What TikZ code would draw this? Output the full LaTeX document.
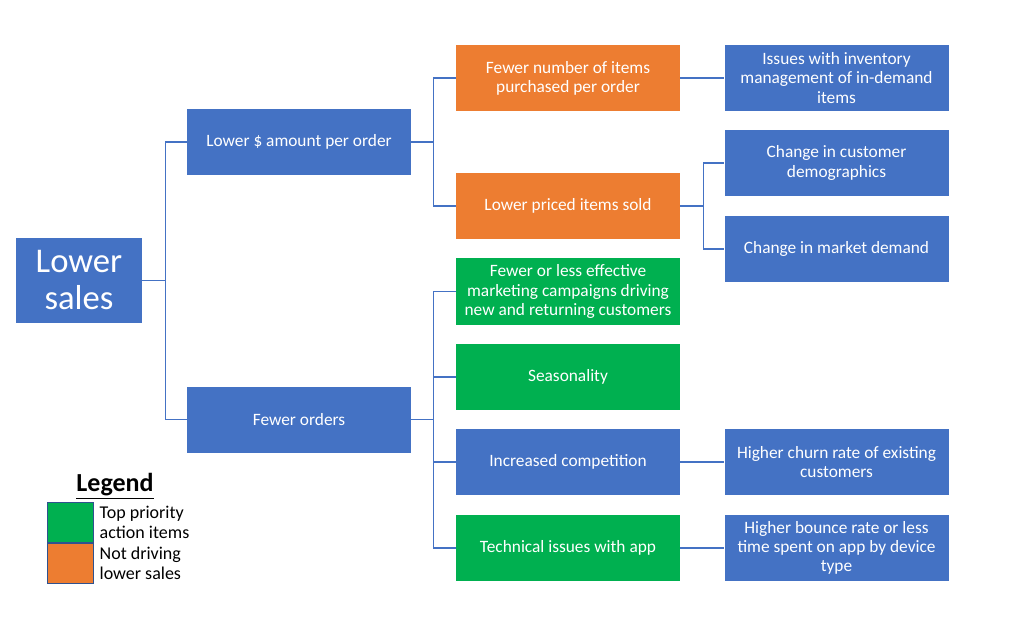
\documentclass[tikz,border=0pt]{standalone}
\usepackage{fontspec}
\setmainfont{Carlito}
\usepackage{xcolor}
\usetikzlibrary{positioning}
\definecolor{boxblue}{HTML}{4472C4}
\definecolor{boxorange}{HTML}{ED7D31}
\definecolor{boxgreen}{HTML}{00B050}
\definecolor{keyedge}{HTML}{2F528F}

\begin{document}
\begin{tikzpicture}[
    x=0.75pt, y=-0.75pt,
    cause/.style={rectangle, minimum width=168pt, minimum height=49.5pt, inner sep=0pt, align=center, text=white, font=\fontsize{13}{14.3}\selectfont},
    bluebox/.style={cause, fill=boxblue},
    orangebox/.style={cause, fill=boxorange},
    greenbox/.style={cause, fill=boxgreen},
    rootbox/.style={rectangle, minimum width=94.5pt, minimum height=63.75pt, inner sep=0pt, align=center, text=white, fill=boxblue, font=\fontsize{26}{27.75}\selectfont},
    keybox/.style={rectangle, draw=keyedge, line width=0.6pt, minimum width=34.5pt, minimum height=30pt, inner sep=0pt},
    keytext/.style={align=left, inner sep=0pt, font=\fontsize{13.5}{15.4}\selectfont},
    link/.style={draw=boxblue, line width=1pt}
]
    \useasboundingbox (0,0) rectangle (1016,623);

    \node[rootbox] (root) at (79,280.5) {Lower\\sales};

    \node[bluebox] (amount) at (299,142) {Lower \$ amount per order};
    \node[bluebox] (orders) at (299,419.5) {Fewer orders};

    \node[orangebox] (items) at (568,78) {Fewer number of items\\purchased per order};
    \node[orangebox] (priced) at (568,206) {Lower priced items sold};
    \node[greenbox] (marketing) at (568,291.5) {Fewer or less effective\\marketing campaigns driving\\new and returning customers};
    \node[greenbox] (season) at (568,377) {Seasonality};
    \node[bluebox] (competition) at (568,462) {Increased competition};
    \node[greenbox] (technical) at (568,548) {Technical issues with app};

    \node[bluebox] (inventory) at (836.5,78) {Issues with inventory\\management of in-demand\\items};
    \node[bluebox] (demographics) at (836.5,163) {Change in customer\\demographics};
    \node[bluebox] (demand) at (836.5,249) {Change in market demand};
    \node[bluebox] (churn) at (836.5,462) {Higher churn rate of existing\\customers};
    \node[bluebox] (bounce) at (836.5,548) {Higher bounce rate or less\\time spent on app by device\\type};

    \draw[link] (root.east) -- +(23,0) |- (amount.west);
    \draw[link] (root.east) -- +(23,0) |- (orders.west);

    \draw[link] (amount.east) -- +(22,0) |- (items.west);
    \draw[link] (amount.east) -- +(22,0) |- (priced.west);
    \draw[link] (orders.east) -- +(22,0) |- (marketing.west);
    \draw[link] (orders.east) -- +(22,0) |- (season.west);
    \draw[link] (orders.east) -- +(22,0) |- (competition.west);
    \draw[link] (orders.east) -- +(22,0) |- (technical.west);

    \draw[link] (items) -- (inventory);
    \draw[link] (priced.east) -- +(23,0) |- (demographics.west);
    \draw[link] (priced.east) -- +(23,0) |- (demand.west);
    \draw[link] (competition) -- (churn);
    \draw[link] (technical) -- (bounce);

    \node[font=\fontsize{19.5}{21}\selectfont\bfseries] (legend) at (115,486) {\underline{Legend}};
    \node[keybox, fill=boxgreen] (keygreen) at (70,522.5) {};
    \node[keybox, fill=boxorange, below=0pt of keygreen] (keyorange) {};
    \node[keytext, right=4.5pt of keygreen] (keygreentext) {Top priority\\action items};
    \node[keytext, right=4.5pt of keyorange] (keyorangetext) {Not driving\\lower sales};
\end{tikzpicture}
\end{document}
